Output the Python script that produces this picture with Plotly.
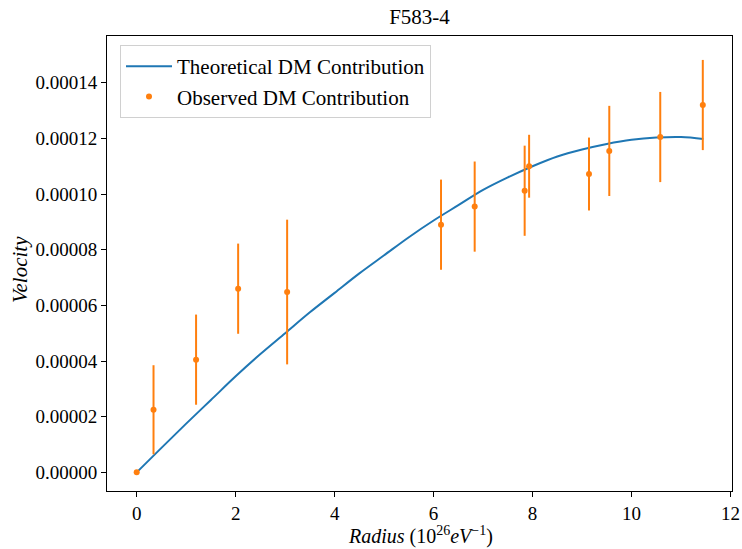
import plotly.graph_objects as go

# Theoretical curve, radius in 1e26 eV^-1, velocity
curve_r = [0, 0.5, 1, 1.5, 2, 2.5, 3, 3.5, 4, 4.5, 5, 5.5, 6, 6.5, 7, 7.5, 8,
           8.5, 9, 9.5, 10, 10.5, 11, 11.45]
curve_v = [0, 0.88e-5, 1.75e-5, 2.6e-5, 3.45e-5, 4.25e-5, 5.0e-5, 5.75e-5,
           6.45e-5, 7.15e-5, 7.8e-5, 8.45e-5, 9.05e-5, 9.6e-5, 10.15e-5,
           10.6e-5, 11.0e-5, 11.35e-5, 11.6e-5, 11.8e-5, 11.95e-5, 12.03e-5,
           12.05e-5, 11.98e-5]

# Observed points
obs_r = [0, 0.34, 1.20, 2.05, 3.04, 6.15, 6.83, 7.84, 7.93, 9.14, 9.55, 10.58, 11.44]
obs_v = [0, 2.25e-5, 4.05e-5, 6.6e-5, 6.48e-5, 8.9e-5, 9.55e-5, 10.12e-5,
         11.0e-5, 10.72e-5, 11.55e-5, 12.05e-5, 13.2e-5]
obs_err = [0, 1.6e-5, 1.62e-5, 1.62e-5, 2.6e-5, 1.62e-5, 1.62e-5, 1.62e-5,
           1.13e-5, 1.31e-5, 1.62e-5, 1.62e-5, 1.62e-5]

y_ticks = [0, 2e-5, 4e-5, 6e-5, 8e-5, 10e-5, 12e-5, 14e-5]
x_ticks = [0, 2, 4, 6, 8, 10, 12]

FONT = "Liberation Serif"
BLUE = "#1f77b4"
ORANGE = "#ff7f0e"

W, H = 742, 549
L, R, T, B = 107, 10, 36, 58
PW, PH = W - L - R, H - T - B

fig = go.Figure()
fig.add_trace(go.Scatter(
    x=curve_r, y=curve_v, mode="lines", name="Theoretical DM Contribution",
    line=dict(color=BLUE, width=2, shape="spline")))
fig.add_trace(go.Scatter(
    x=obs_r, y=obs_v, mode="markers", name="Observed DM Contribution",
    marker=dict(color=ORANGE, size=6),
    error_y=dict(type="data", array=obs_err, visible=True, color=ORANGE,
                 thickness=2, width=0)))

axis_common = dict(showline=True, linecolor="black", linewidth=1, mirror=True,
                   ticks="outside", ticklen=5, tickcolor="black",
                   showgrid=False, zeroline=False, automargin=False,
                   tickfont=dict(family=FONT, size=19, color="black"))

fig.update_layout(
    width=W, height=H,
    margin=dict(l=L, r=R, t=T, b=B),
    paper_bgcolor="white", plot_bgcolor="white",
    font=dict(family=FONT, color="black"),
    title=dict(text="F583-4", x=(L + W - R) / 2 / W, xanchor="center",
               y=1 - 17 / H, yanchor="middle",
               font=dict(family=FONT, size=21, color="black")),
    xaxis=dict(range=[-0.6, 12.03], tickvals=x_ticks,
               ticktext=[str(t) for t in x_ticks], **axis_common),
    yaxis=dict(range=[-0.67e-5, 15.68e-5], tickvals=y_ticks, tickformat=".5f",
               **axis_common),
    legend=dict(x=(120 - L) / PW, y=1 - (45 - T) / PH, xanchor="left", yanchor="top",
                bgcolor="rgba(255,255,255,0.8)", bordercolor="#d0d0d0",
                borderwidth=1, font=dict(family=FONT, size=21, color="black"),
                itemwidth=46, tracegroupgap=0),
    showlegend=True,
    annotations=[
        dict(text="<i>Radius</i> (10<sup>26</sup><i>eV</i><sup>−1</sup>)",
             xref="paper", yref="paper", x=(420 - L) / PW, y=(H - B - 535) / PH,
             xanchor="center", yanchor="middle", showarrow=False,
             font=dict(family=FONT, size=20, color="black")),
        dict(text="<i>Velocity</i>", textangle=-90,
             xref="paper", yref="paper", x=(20 - L) / PW, y=(H - B - 270) / PH,
             xanchor="center", yanchor="middle", showarrow=False,
             font=dict(family=FONT, size=21, color="black")),
    ],
)

fig.write_html("out.html", config={"displayModeBar": False},
               post_script="document.body.style.margin='0';"
                           "document.body.style.overflow='hidden';")
